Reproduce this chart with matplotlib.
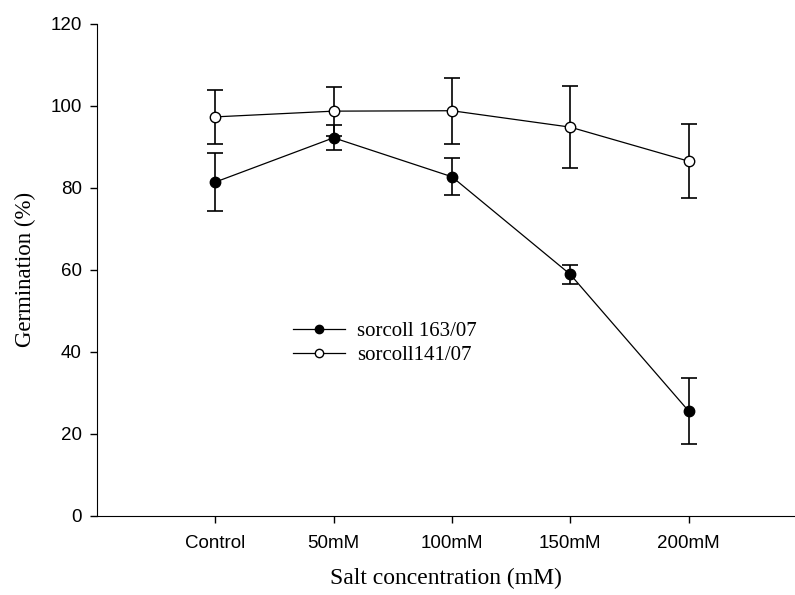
import numpy as np
import matplotlib.pyplot as plt
from matplotlib.lines import Line2D

categories = ['Control', '50mM', '100mM', '150mM', '200mM']
sorcoll163 = [81.4, 92.2, 82.7, 58.9, 25.6]
sorcoll163_err = [7.0, 3.0, 4.5, 2.3, 8.0]
sorcoll141 = [97.3, 98.7, 98.8, 94.8, 86.5]
sorcoll141_err = [6.5, 6.0, 8.0, 10.0, 9.0]

fig = plt.figure(figsize=(7.95, 5.95), dpi=100)
ax = fig.add_axes([0.122, 0.133, 0.878, 0.827])

x = np.arange(1, len(categories) + 1)

ax.errorbar(x, sorcoll163, yerr=sorcoll163_err, color='black', lw=0.9,
            marker='o', ms=7.5, mfc='black', mec='black', capsize=5.5,
            elinewidth=1.2, capthick=1.2)
ax.errorbar(x, sorcoll141, yerr=sorcoll141_err, color='black', lw=0.9,
            marker='o', ms=7.5, mfc='white', mec='black', capsize=5.5,
            elinewidth=1.2, capthick=1.2)

ax.set_xlim(0, 5.9)
ax.set_ylim(0, 120)
ax.set_yticks(np.arange(0, 121, 20))
ax.set_xticks(x)
ax.set_xticklabels(categories)

for s in ['top', 'right']:
    ax.spines[s].set_visible(False)
ax.tick_params(direction='out', length=5, width=1, labelsize=13.5, pad=6)
ax.tick_params(axis='x', length=5, pad=9)
for lab in ax.get_xticklabels() + ax.get_yticklabels():
    lab.set_family('Liberation Sans')

ax.set_xlabel('Salt concentration (mM)', family='Liberation Serif', fontsize=17, labelpad=11)
ax.set_ylabel('Germination (%)', family='Liberation Serif', fontsize=16.5, labelpad=10)

handles = [
    Line2D([], [], color='black', lw=0.9, marker='o', ms=6, mfc='black', mec='black'),
    Line2D([], [], color='black', lw=0.9, marker='o', ms=6, mfc='white', mec='black'),
]
ax.legend(handles, ['sorcoll 163/07', 'sorcoll141/07'], loc='upper left',
          bbox_to_anchor=(274 / 795, 1 - 303 / 595),
          bbox_transform=fig.transFigure, frameon=False,
          prop={'family': 'Liberation Serif', 'size': 15},
          handlelength=2.5, labelspacing=0.2, handletextpad=0.6)

fig.savefig('out.png', dpi=100)
